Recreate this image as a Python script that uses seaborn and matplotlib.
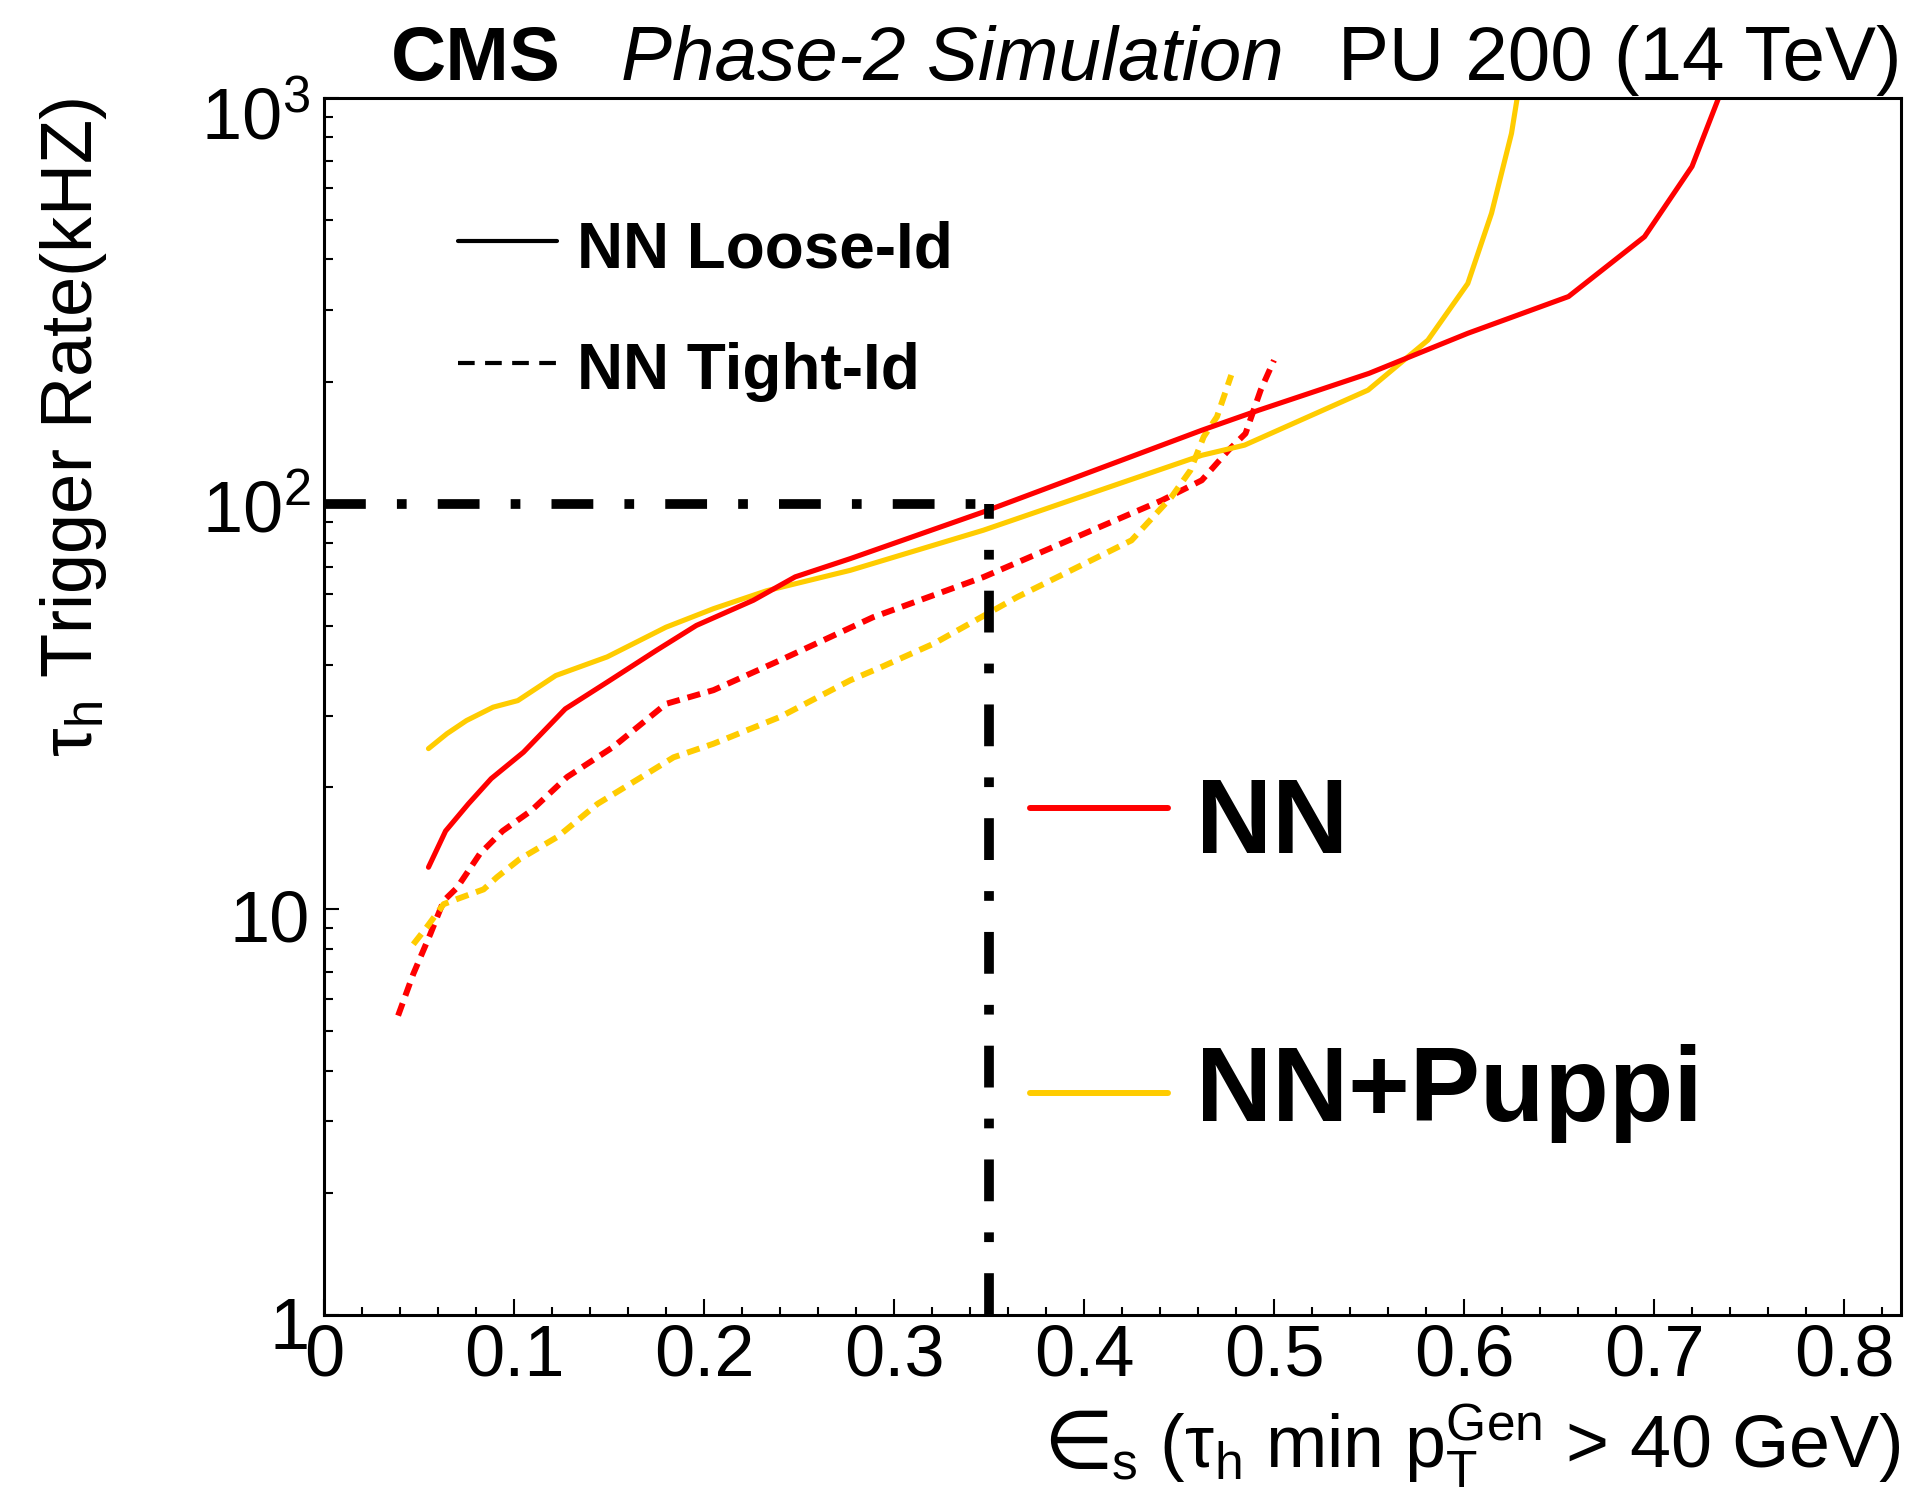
import matplotlib
matplotlib.use("Agg")
import matplotlib.pyplot as plt
from matplotlib.lines import Line2D
from matplotlib.transforms import ScaledTranslation
from matplotlib.ticker import FixedLocator, FixedFormatter, MultipleLocator, LogLocator, NullFormatter
import numpy as np
import pandas as pd
import seaborn as sns

# ---------------- data ----------------
nn_loose_eff = [0.055, 0.064, 0.076, 0.088, 0.105, 0.127, 0.149, 0.175, 0.196, 0.226,
                0.248, 0.277, 0.347, 0.462, 0.492, 0.550, 0.602, 0.655, 0.695, 0.720, 0.734]
nn_loose_rate = [12.7, 15.6, 18.2, 21.0, 24.4, 31.2, 36.3, 43.5, 50.1, 57.8,
                 66.0, 73.2, 95.4, 151.7, 170.0, 209.5, 263.0, 324.0, 455.0, 678.0, 1000.0]

puppi_loose_eff = [0.055, 0.0647, 0.075, 0.089, 0.102, 0.122, 0.149, 0.180, 0.205, 0.233,
                   0.277, 0.347, 0.462, 0.4845, 0.5495, 0.581, 0.602, 0.6145, 0.625, 0.628]
puppi_loose_rate = [24.9, 27.1, 29.2, 31.5, 32.7, 37.7, 41.9, 49.6, 55.1, 61.0,
                    68.5, 86.0, 131.6, 139.4, 190.5, 253.0, 349.0, 520.0, 818.0, 1000.0]

nn_tight_eff = [0.039, 0.047, 0.056, 0.063, 0.070, 0.082, 0.094, 0.109, 0.128, 0.152,
                0.180, 0.205, 0.240, 0.289, 0.347, 0.400, 0.441, 0.462, 0.476, 0.485,
                0.493, 0.500]
nn_tight_rate = [5.47, 6.93, 8.7, 10.5, 11.3, 13.7, 15.6, 17.5, 21.2, 25.1,
                 32.1, 34.7, 41.1, 52.5, 65.9, 84.3, 101.9, 114.2, 135.4, 148.9,
                 190.6, 225.7]

puppi_tight_eff = [0.047, 0.054, 0.063, 0.070, 0.084, 0.091, 0.103, 0.123, 0.144, 0.170,
                   0.184, 0.205, 0.240, 0.277, 0.293, 0.321, 0.365, 0.425, 0.446, 0.456,
                   0.463, 0.470, 0.4775]
puppi_tight_rate = [8.2, 9.03, 10.3, 10.6, 11.2, 12.0, 13.3, 15.1, 18.2, 21.6,
                    23.7, 25.6, 29.8, 36.7, 39.5, 45.2, 58.9, 81.2, 103.8, 120.8,
                    146.2, 163.8, 207.5]

threshold_eff = 0.35
threshold_rate = 100.0

x_ticks = [0, 0.1, 0.2, 0.3, 0.4, 0.5, 0.6, 0.7, 0.8]
x_tick_labels = ["0", "0.1", "0.2", "0.3", "0.4", "0.5", "0.6", "0.7", "0.8"]
y_ticks = [1, 10, 100, 1000]
y_tick_labels = ["1", "10", r"$10^{2}$", r"$10^{3}$"]

RED = "#ff0000"
YELLOW = "#ffcc00"

# ---------------- style ----------------
sns.set_style("ticks")
plt.rcParams["font.family"] = ["Liberation Sans", "DejaVu Sans"]
plt.rcParams.update({
    "mathtext.fontset": "custom",
    "mathtext.rm": "Liberation Sans",
    "mathtext.it": "Liberation Sans:italic",
    "mathtext.bf": "Liberation Sans:bold",
    "mathtext.sf": "Liberation Sans",
    "text.color": "black",
    "axes.labelcolor": "black",
    "xtick.color": "black",
    "ytick.color": "black",
    "axes.edgecolor": "black",
})

W, H = 1917, 1496
fig = plt.figure(figsize=(W / 100, H / 100), dpi=100)
L, R, T, B = 324, 1901, 98, 1315
ax = fig.add_axes([L / W, (H - B) / H, (R - L) / W, (B - T) / H])

frames = []
for name, ex, ry in [("NN Loose", nn_loose_eff, nn_loose_rate),
                     ("NN+Puppi Loose", puppi_loose_eff, puppi_loose_rate),
                     ("NN Tight", nn_tight_eff, nn_tight_rate),
                     ("NN+Puppi Tight", puppi_tight_eff, puppi_tight_rate)]:
    frames.append(pd.DataFrame({"eff": ex, "rate": ry, "curve": name}))
df = pd.concat(frames, ignore_index=True)

styles = {
    "NN Tight": (RED, (0, (2.2, 1.35)), 4.3),
    "NN+Puppi Tight": (YELLOW, (0, (2.2, 1.35)), 4.3),
    "NN+Puppi Loose": (YELLOW, "solid", 3.7),
    "NN Loose": (RED, "solid", 3.7),
}
for name, (col, ls, lw) in styles.items():
    sub = df[df["curve"] == name]
    sns.lineplot(data=sub, x="eff", y="rate", color=col, linestyle=ls, lw=lw,
                 estimator=None, sort=False, ax=ax, legend=False)

ax.set_yscale("log")
ax.set_xlim(0, 0.83)
ax.set_ylim(1, 1000)

dd = (0, (4.3, 3.2, 1.0, 3.2))
ax.hlines(threshold_rate, 0, threshold_eff, colors="black", lw=7, linestyles=[dd], zorder=5)
ax.vlines(threshold_eff, 1, threshold_rate, colors="black", lw=7, linestyles=[dd], zorder=5)

# axes / ticks
for s in ax.spines.values():
    s.set_linewidth(2.2)
    s.set_color("black")
ax.xaxis.set_major_locator(FixedLocator(x_ticks))
ax.xaxis.set_major_formatter(FixedFormatter(x_tick_labels))
ax.xaxis.set_minor_locator(MultipleLocator(0.02))
ax.yaxis.set_major_locator(FixedLocator(y_ticks))
ax.yaxis.set_major_formatter(FixedFormatter(y_tick_labels))
ax.yaxis.set_minor_locator(LogLocator(base=10, subs=np.arange(2, 10)))
ax.yaxis.set_minor_formatter(NullFormatter())
ax.tick_params(axis="both", which="both", direction="in", top=False, right=False,
               colors="black", labelcolor="black", width=1.5)
ax.tick_params(axis="x", which="major", length=11.5, pad=6, labelsize=52)
ax.tick_params(axis="x", which="minor", length=5.8)
ax.tick_params(axis="y", which="major", length=10.8, pad=10, labelsize=52)
ax.tick_params(axis="y", which="minor", length=6.5)
ax.set_xlabel("")
ax.set_ylabel("")

# small downward shift of y tick labels (as in reference)
shifts = {0: 8, 1: 6, 2: 2, 3: 14}
for i, lab in enumerate(ax.get_yticklabels()):
    lab.set_transform(lab.get_transform() + ScaledTranslation(0, -shifts.get(i, 0) / 100, fig.dpi_scale_trans))

# axis titles
xl_y = 1 - 1468 / H
xl_rest = fig.text(R / W, xl_y,
                   r"$_{\mathrm{s}}$ ($\mathrm{\tau}_{\mathrm{h}}$ min p$_{\mathrm{T}}^{\mathrm{Gen}}$ > 40 GeV)",
                   fontsize=53, ha="right", va="baseline", color="black")
fig.canvas.draw()
bb = xl_rest.get_window_extent(renderer=fig.canvas.get_renderer())
fig.text((bb.x0 + 2) / W, xl_y, "\u2208", family="DejaVu Sans", fontsize=58,
         ha="right", va="baseline", color="black")

fig.text(92 / W, 1 - 98 / H, r"$\mathrm{\tau}_{\mathrm{h}}$ Trigger Rate(kHZ)", fontsize=52,
         rotation=90, rotation_mode="anchor", ha="right", va="baseline", color="black")

# header
fig.text(391 / W, 1 - 80 / H, "CMS", fontsize=55, fontweight="bold", ha="left", va="baseline")
fig.text(621 / W, 1 - 80 / H, "Phase-2 Simulation", fontsize=55, fontstyle="italic", ha="left", va="baseline")
fig.text(R / W, 1 - 80 / H, "PU 200 (14 TeV)", fontsize=55, ha="right", va="baseline")

# legend 1 (ID working points)
fig.add_artist(Line2D([458 / W, 557 / W], [1 - 241 / H] * 2, color="black", lw=3))
fig.add_artist(Line2D([458 / W, 557 / W], [1 - 363 / H] * 2, color="black", lw=3,
                      linestyle=(0, (4, 2.5))))
fig.text(577 / W, 1 - 267 / H, "NN Loose-Id", fontsize=46, fontweight="bold", va="baseline")
fig.text(577 / W, 1 - 389 / H, "NN Tight-Id", fontsize=46, fontweight="bold", va="baseline")

# legend 2 (algorithms)
fig.add_artist(Line2D([1030 / W, 1168 / W], [1 - 808 / H] * 2, color=RED, lw=4.3))
fig.add_artist(Line2D([1030 / W, 1168 / W], [1 - 1093 / H] * 2, color=YELLOW, lw=4.3))
fig.text(1196 / W, 1 - 853 / H, "NN", fontsize=76, fontweight="bold", va="baseline")
fig.text(1196 / W, 1 - 1121 / H, "NN+Puppi", fontsize=76, fontweight="bold", va="baseline")

fig.savefig("out.png", dpi=100)
